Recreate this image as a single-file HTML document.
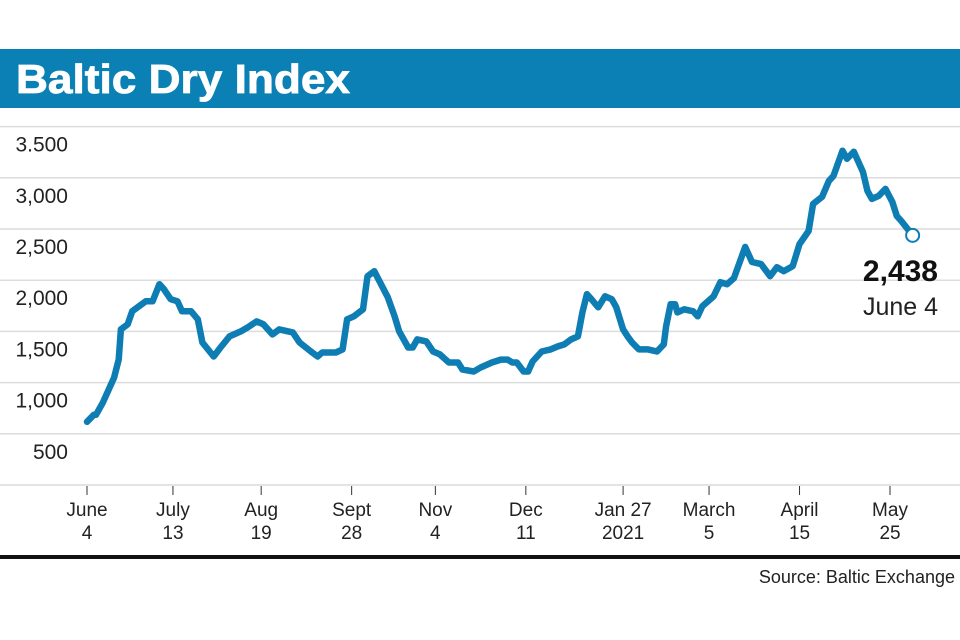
<!DOCTYPE html>
<html><head><meta charset="utf-8"><style>
html,body{margin:0;padding:0;background:#fff;width:960px;height:640px;overflow:hidden;font-family:"Liberation Sans",sans-serif}
</style></head><body>
<svg width="960" height="640" viewBox="0 0 960 640" xmlns="http://www.w3.org/2000/svg">
<rect x="0" y="49" width="960" height="59" fill="#0b80b5"/>
<text x="16" y="93" font-size="41" font-weight="bold" fill="#fff" textLength="334" lengthAdjust="spacingAndGlyphs" font-family="Liberation Sans, sans-serif" stroke="#fff" stroke-width="0.8">Baltic Dry Index</text>
<g id="grid"></g>
<g id="ylabels"></g>
<g id="xaxis"></g>
<path id="line" fill="none" stroke="#0e7db3" stroke-width="6.5" stroke-linejoin="round" stroke-linecap="round"/>
<circle id="endpt" r="6.5" fill="#fff" stroke="#0e7db3" stroke-width="2"/>
<text id="lastval" x="938" y="281" text-anchor="end" font-size="30" font-weight="bold" fill="#111">2,438</text>
<text x="938" y="315" text-anchor="end" font-size="25" fill="#222">June 4</text>
<rect x="0" y="555" width="960" height="4" fill="#111"/>
<text x="955" y="583" text-anchor="end" font-size="18" fill="#222">Source: Baltic Exchange</text>
</svg>
<script>
const days=[0,3,4,7,12,14,15,18,20,26,29,32,34,37,40,42,46,49,51,56,59,63,68,71,75,78,82,85,91,94,99,102,104,110,113,115,118,122,124,127,133,136,138,142,144,146,150,153,156,160,164,166,171,174,179,183,186,188,190,193,195,197,201,205,208,211,214,217,219,221,223,226,229,232,234,237,239,241,244,248,252,255,256,258,260,261,264,268,270,272,277,280,283,286,291,294,298,302,305,308,312,315,319,321,325,328,330,334,336,339,343,345,347,350,353,356,358,360,365];
const values=[617,686,686,804,1049,1225,1520,1569,1696,1794,1794,1961,1912,1814,1794,1696,1696,1618,1392,1255,1343,1451,1500,1539,1598,1569,1471,1520,1490,1392,1304,1255,1294,1294,1324,1618,1647,1716,2039,2088,1833,1647,1500,1343,1343,1422,1402,1304,1275,1196,1196,1127,1108,1147,1196,1225,1225,1196,1196,1108,1108,1206,1304,1324,1353,1373,1422,1451,1686,1863,1814,1735,1843,1814,1735,1520,1451,1392,1324,1324,1304,1373,1549,1765,1765,1686,1716,1696,1647,1745,1843,1980,1961,2020,2325,2178,2157,2039,2127,2088,2137,2353,2480,2745,2814,2970,3020,3265,3186,3255,3059,2873,2794,2823,2892,2765,2627,2578,2438];
const yTicks=[500,1000,1500,2000,2500,3000,3500];
const yTickLabels=["500","1,000","1,500","2,000","2,500","3,000","3.500"];
const xTickDays=[0,38,77,117,154,194,237,275,315,355];
const xTickTop=["June","July","Aug","Sept","Nov","Dec","Jan 27","March","April","May"];
const xTickBottom=["4","13","19","28","4","11","2021","5","15","25"];
const NS="http://www.w3.org/2000/svg";
const X=d=>87+d*2.262;
const Y=v=>485-v*51.2/500;
const grid=document.getElementById('grid'),yl=document.getElementById('ylabels'),xa=document.getElementById('xaxis');
function mk(t,a,p){const e=document.createElementNS(NS,t);for(const k in a)e.setAttribute(k,a[k]);p.appendChild(e);return e;}
[0].concat(yTicks).forEach(v=>{
  const l=mk('line',{x1:0,x2:960,y1:Y(v),y2:Y(v),stroke:'#dcdcdc','stroke-width':1.5},grid);
  
  
});
yTicks.forEach((v,i)=>{
  const t=mk('text',{x:68,y:Y(v)+25,'text-anchor':'end','font-size':21,fill:'#222'},yl);
  t.textContent=yTickLabels[i];
  
  
});
xTickDays.forEach((d,i)=>{
  const x=X(d);
  const tk=mk('line',{x1:x,x2:x,y1:486,y2:495,stroke:'#333','stroke-width':1},xa);
  
  
  const t1=mk('text',{x:x,y:516,'text-anchor':'middle','font-size':19,fill:'#222'},xa);
  t1.textContent=xTickTop[i];
  
  
  const t2=mk('text',{x:x,y:539,'text-anchor':'middle','font-size':19,fill:'#222'},xa);
  t2.textContent=xTickBottom[i];
  
  
});
document.getElementById('line').setAttribute('d',days.map((d,i)=>(i?'L':'M')+X(d).toFixed(1)+','+Y(values[i]).toFixed(1)).join(''));
const n=days.length-1,ep=document.getElementById('endpt');
ep.setAttribute('cx',X(days[n]));ep.setAttribute('cy',Y(values[n]));
document.getElementById('lastval').textContent=values[n].toLocaleString('en-US');
</script>
</body></html>
